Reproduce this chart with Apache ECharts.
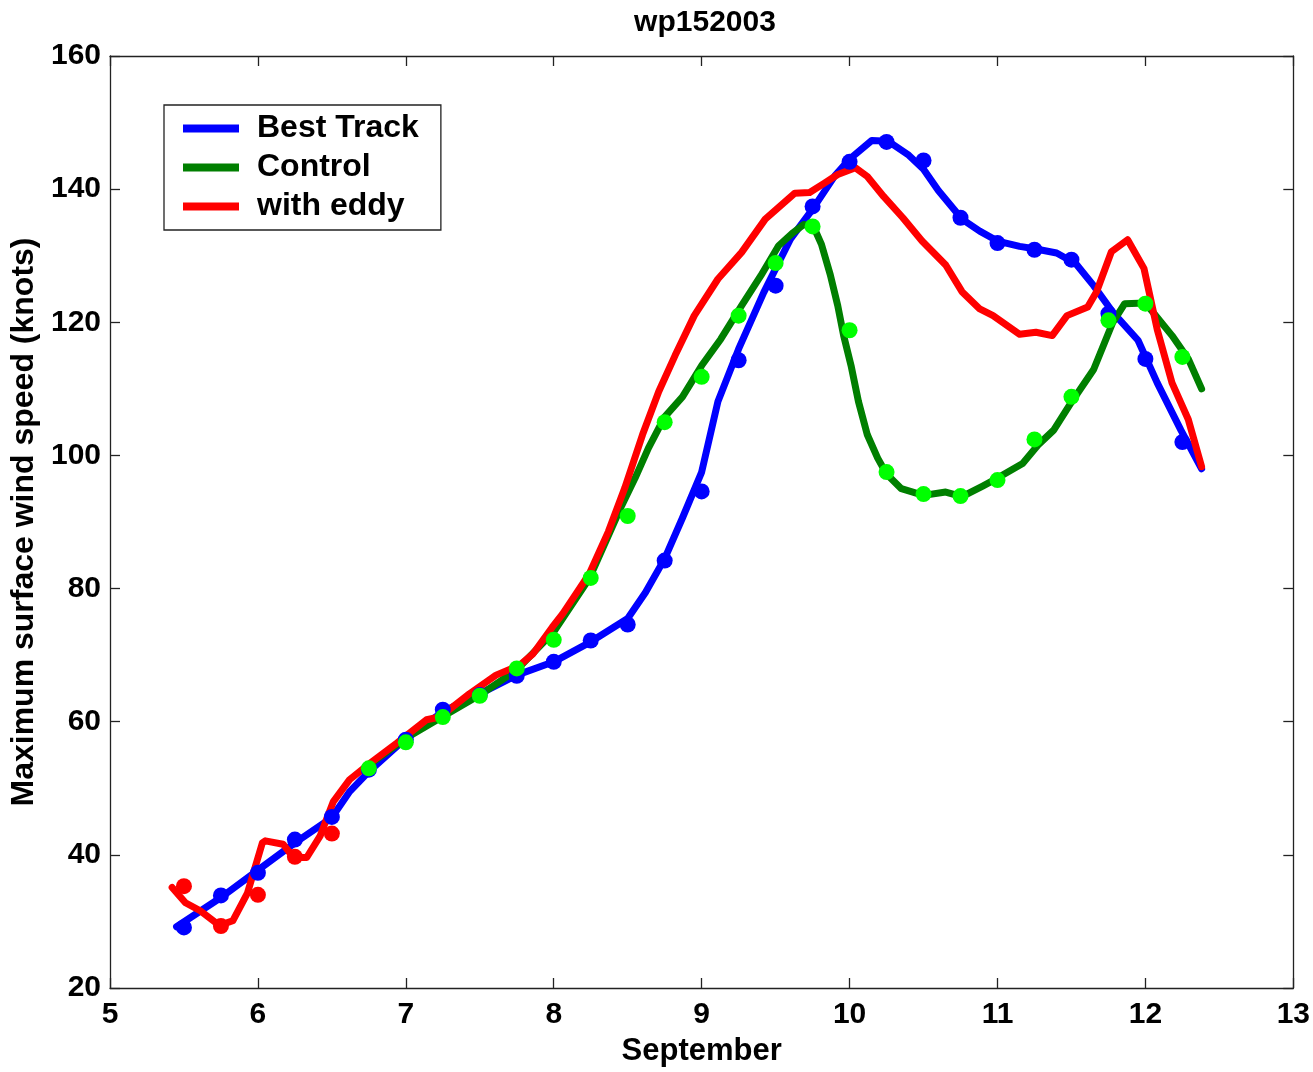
<!DOCTYPE html>
<html>
<head>
<meta charset="utf-8">
<title>wp152003</title>
<script src="https://cdn.jsdelivr.net/npm/echarts@6/dist/echarts.min.js"></script>
<style>
  html, body { margin: 0; padding: 0; background: #fff; }
  #chart { width: 1313px; height: 1072px; }
</style>
</head>
<body>
<div id="chart"></div>
<script>
// x = day of September, y = max surface wind (knots)

// lines (hourly-ish curves)
var bestTrackLine = [
  [5.45, 29.2], [5.75, 33.6], [6.0, 37.7], [6.25, 41.8], [6.5, 45.6], [6.62, 49.5], [6.75, 52.5],
  [7.0, 57.5], [7.25, 61.5], [7.5, 64.2], [7.75, 67.0], [8.0, 69.0], [8.25, 72.0], [8.5, 75.5],
  [8.62, 79.4], [8.75, 84.5], [8.87, 90.6], [9.0, 97.5], [9.11, 108.1], [9.25, 116.0], [9.42, 124.5],
  [9.6, 132.5], [9.75, 137.0], [9.9, 142.0], [10.0, 144.5], [10.15, 147.3], [10.26, 147.2],
  [10.4, 145.1], [10.5, 143.0], [10.6, 139.8], [10.76, 135.5], [10.88, 133.7], [11.0, 132.2],
  [11.15, 131.4], [11.26, 131.0], [11.4, 130.4], [11.53, 128.8], [11.65, 125.5], [11.78, 121.5],
  [11.95, 117.3], [12.08, 110.9], [12.24, 103.8], [12.38, 98.0]
];
var controlLine = [
  [6.75, 53.5], [7.0, 57.5], [7.25, 60.8], [7.5, 64.0], [7.75, 67.8], [8.0, 73.5], [8.24, 81.5],
  [8.37, 88.0], [8.46, 92.5], [8.55, 96.6], [8.64, 101.1], [8.75, 105.8], [8.87, 108.8], [9.0, 113.5],
  [9.13, 117.5], [9.27, 122.5], [9.4, 127.0], [9.52, 131.5], [9.62, 133.5], [9.69, 134.7],
  [9.76, 134.2], [9.81, 131.7], [9.87, 127.1], [9.92, 122.5], [9.96, 118.0], [10.01, 113.5],
  [10.06, 108.1], [10.12, 103.1], [10.19, 99.6], [10.25, 97.2], [10.35, 95.0], [10.5, 94.0],
  [10.65, 94.5], [10.76, 93.8], [10.9, 95.4], [11.0, 96.6], [11.17, 98.8], [11.28, 101.7],
  [11.38, 103.8], [11.5, 108.0], [11.65, 112.9], [11.78, 120.0], [11.86, 122.8], [12.0, 122.9],
  [12.18, 118.0], [12.29, 114.5], [12.38, 110.0]
];
var eddyLine = [
  [5.42, 35.1], [5.51, 32.8], [5.61, 31.6], [5.74, 29.4], [5.83, 30.1], [5.93, 34.3], [6.03, 41.8],
  [6.05, 42.1], [6.17, 41.6], [6.24, 39.6], [6.33, 39.6], [6.42, 42.8], [6.51, 48.0], [6.62, 51.3],
  [6.76, 53.8], [6.94, 56.8], [7.14, 60.3], [7.23, 60.7], [7.43, 64.2], [7.61, 67.0], [7.77, 68.5],
  [7.86, 70.2], [7.99, 74.2], [8.06, 76.2], [8.24, 82.2], [8.37, 88.6], [8.48, 95.1], [8.6, 103.1],
  [8.71, 109.6], [8.82, 115.0], [8.95, 121.0], [9.11, 126.5], [9.27, 130.5], [9.43, 135.5],
  [9.63, 139.4], [9.73, 139.5], [9.83, 140.9], [9.92, 142.2], [10.04, 143.2], [10.12, 141.9],
  [10.23, 138.9], [10.36, 135.7], [10.49, 132.2], [10.65, 128.6], [10.76, 124.6], [10.88, 122.0],
  [10.97, 121.0], [11.15, 118.2], [11.26, 118.5], [11.37, 118.0], [11.47, 121.0], [11.61, 122.3],
  [11.67, 124.6], [11.77, 130.6], [11.88, 132.4], [11.99, 128.1], [12.08, 118.9], [12.18, 110.9],
  [12.29, 105.4], [12.38, 98.3]
];

// 6-hourly dots
var bestTrackDots = [
  [5.5, 29.1], [5.75, 33.9], [6.0, 37.3], [6.25, 42.3], [6.5, 45.7], [6.75, 52.8], [7.0, 57.3],
  [7.25, 61.8], [7.5, 64.0], [7.75, 66.9], [8.0, 69.0], [8.25, 72.2], [8.5, 74.6], [8.75, 84.2],
  [9.0, 94.6], [9.25, 114.3], [9.5, 125.5], [9.75, 137.4], [10.0, 144.1], [10.25, 147.1],
  [10.5, 144.3], [10.75, 135.7], [11.0, 131.9], [11.25, 130.9], [11.5, 129.4], [11.75, 121.3],
  [12.0, 114.5], [12.25, 102.0]
];
var controlDots = [
  [6.75, 53.0], [7.0, 56.9], [7.25, 60.7], [7.5, 63.9], [7.75, 68.0], [8.0, 72.3], [8.25, 81.6],
  [8.5, 90.9], [8.75, 105.0], [9.0, 111.8], [9.25, 121.0], [9.5, 128.9], [9.75, 134.4],
  [10.0, 118.8], [10.25, 97.5], [10.5, 94.2], [10.75, 93.9], [11.0, 96.3], [11.25, 102.4],
  [11.5, 108.8], [11.75, 120.3], [12.0, 122.8], [12.25, 114.8]
];
var eddyDots = [
  [5.5, 35.3], [5.75, 29.3], [6.0, 34.0], [6.25, 39.7], [6.5, 43.2]
];

var seriesNames = ['Best Track', 'Control', 'with eddy'];
var xTicks = [5, 6, 7, 8, 9, 10, 11, 12, 13];
var yTicks = [20, 40, 60, 80, 100, 120, 140, 160];

var font = '"Liberation Sans", Arial, Helvetica, sans-serif';

var chart = echarts.init(document.getElementById('chart'), null, { renderer: 'canvas' });

function lineSeries(name, data, color) {
  return {
    name: name,
    type: 'line',
    data: data,
    showSymbol: false,
    symbol: 'none',
    smooth: false,
    color: color,
    lineStyle: { color: color, width: 7, cap: 'round', join: 'round' },
    silent: true,
    z: 3
  };
}
function dotSeries(name, data, color) {
  return {
    name: name,
    type: 'scatter',
    data: data,
    symbol: 'circle',
    symbolSize: 16,
    itemStyle: { color: color, opacity: 1 },
    silent: true,
    z: 3
  };
}

// boxed axes: bottom/left carry labels, top/right only ticks
var axisLine = { show: true, onZero: false, lineStyle: { color: '#222', width: 1.3 } };
var axisTick = { show: true, inside: true, length: 10, lineStyle: { color: '#222', width: 1.3 } };

var option = {
  animation: false,
  backgroundColor: '#fff',
  title: {
    text: 'wp152003',
    left: 700,
    textAlign: 'center',
    top: 3,
    textStyle: { fontFamily: font, fontSize: 30, fontWeight: 'bold', color: '#000' }
  },
  legend: {
    data: seriesNames,
    left: 164,
    top: 105,
    orient: 'vertical',
    icon: 'rect',
    itemWidth: 56,
    itemHeight: 8,
    itemGap: 6,
    padding: [7, 22, 7, 19],
    backgroundColor: '#fff',
    borderColor: '#222',
    borderWidth: 1.3,
    borderRadius: 0,
    textStyle: { fontFamily: font, fontSize: 32, fontWeight: 'bold', color: '#000', lineHeight: 33, padding: [0, 0, 0, 13] }
  },
  grid: { left: 105, top: 56, right: 18, bottom: 79, containLabel: false },
  xAxis: [{
    type: 'value',
    min: xTicks[0],
    max: xTicks[xTicks.length - 1],
    interval: 1,
    name: 'September',
    nameLocation: 'middle',
    nameGap: 48,
    nameTextStyle: { fontFamily: font, fontSize: 31, fontWeight: 'bold', color: '#000' },
    axisLine: axisLine,
    axisTick: axisTick,
    splitLine: { show: false },
    axisLabel: { margin: 12, fontFamily: font, fontSize: 30, fontWeight: 'bold', color: '#000' }
  }, {
    type: 'value',
    position: 'top',
    min: xTicks[0],
    max: xTicks[xTicks.length - 1],
    interval: 1,
    axisLine: axisLine,
    axisTick: axisTick,
    splitLine: { show: false },
    axisLabel: { show: false }
  }],
  yAxis: [{
    type: 'value',
    min: yTicks[0],
    max: yTicks[yTicks.length - 1],
    interval: 20,
    name: 'Maximum surface wind speed (knots)',
    nameLocation: 'middle',
    nameGap: 70,
    nameTextStyle: { fontFamily: font, fontSize: 32, fontWeight: 'bold', color: '#000' },
    axisLine: axisLine,
    axisTick: axisTick,
    splitLine: { show: false },
    axisLabel: { margin: 9, fontFamily: font, fontSize: 30, fontWeight: 'bold', color: '#000' }
  }, {
    type: 'value',
    position: 'right',
    min: yTicks[0],
    max: yTicks[yTicks.length - 1],
    interval: 20,
    axisLine: axisLine,
    axisTick: axisTick,
    splitLine: { show: false },
    axisLabel: { show: false }
  }],
  series: [
    lineSeries(seriesNames[0], bestTrackLine, '#0000ff'),
    dotSeries('Best Track obs', bestTrackDots, '#0000ff'),
    lineSeries(seriesNames[1], controlLine, '#007f00'),
    dotSeries('Control obs', controlDots, '#00ff00'),
    lineSeries(seriesNames[2], eddyLine, '#ff0000'),
    dotSeries('with eddy obs', eddyDots, '#ff0000')
  ]
};

chart.setOption(option);
</script>
</body>
</html>
